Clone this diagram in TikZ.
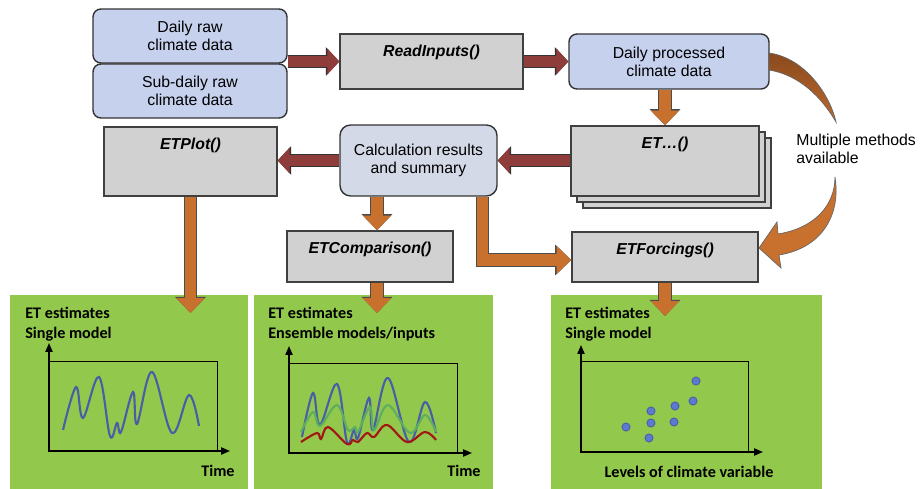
\documentclass[tikz,border=0pt]{standalone}
\usepackage{fontspec}
\setmainfont{Liberation Sans}
\newfontfamily\calibri{Carlito}
\usepackage{xcolor}
\definecolor{mblue}{HTML}{C6D1EE}
\definecolor{msum}{HTML}{D4D9E7}
\definecolor{mgrey}{HTML}{D1D1D1}
\definecolor{mgreen}{HTML}{92C84B}
\definecolor{mred}{HTML}{8F3D3B}
\definecolor{morange}{HTML}{C8702E}
\definecolor{mbrown}{HTML}{8A4A1E}
\definecolor{mline}{HTML}{4A5DA6}
\definecolor{mlgreen}{HTML}{5DAE62}
\definecolor{mdred}{HTML}{A31616}
\definecolor{mdot}{HTML}{5B7BD0}
\usetikzlibrary{arrows.meta,calc}

\tikzset{
  boxfont/.style={font=\fontsize{9}{10.3}\selectfont},
  databox/.style={draw=black!80, line width=0.8pt, fill=mblue, rounded corners=4.5pt,
    align=center, boxfont},
  fnshape/.style={draw=black!75, line width=0.8pt, fill=mgrey},
  fnbox/.style={fnshape, label={[fnlabel]north:#1}},
  fnlabel/.style={anchor=north, yshift=-3.2pt, boxfont, font=\fontsize{9}{10.3}\selectfont\bfseries\itshape},
  panel/.style={fill=mgreen, inner sep=0pt, minimum height=3.88cm, anchor=north west},
  paneltext/.style={anchor=north west, inner sep=0pt, align=left,
    font=\calibri\fontsize{9.2}{11.3}\selectfont\bfseries},
  axislabel/.style={anchor=base, inner sep=0pt, font=\calibri\fontsize{9.2}{11.3}\selectfont\bfseries},
  redarrow/.style={line width=6.2pt, draw=mred, line cap=butt,
    -{Triangle[length=6.8pt,width=14.4pt]},
    preaction={draw=black!80, line width=7.4pt, -{Triangle[length=7.6pt,width=15.8pt]}}},
  orangearrow/.style={line width=6.6pt, draw=morange, line cap=butt, line join=miter,
    -{Triangle[length=8.4pt,width=15.6pt]},
    preaction={draw=black!70, line width=7.6pt, line join=miter, -{Triangle[length=9.2pt,width=17pt]}}},
  axis/.style={line width=0.9pt, {Triangle[length=5pt,width=4pt]}-{Triangle[length=5pt,width=4pt]}},
  frame/.style={line width=0.5pt},
  curve/.style={line width=1.2pt, smooth, tension=0.6},
  dot/.style={fill=mdot, draw=mline, line width=0.5pt}
}

\begin{document}
\begin{tikzpicture}[x=0.02cm, y=-0.02cm]
  \useasboundingbox (0,0) rectangle (920,489);
  \fill[white] (0,0) rectangle (920,489);

  % result panels
  \node[panel, minimum width=4.76cm] (p1) at (10,295) {};
  \node[panel, minimum width=4.78cm] (p2) at (254,295) {};
  \node[panel, minimum width=5.42cm] (p3) at (551,295) {};

  % input data
  \node[databox, minimum width=3.88cm, minimum height=1.08cm] (rawd) at (190,36) {Daily raw\\climate data};
  \node[databox, minimum width=3.88cm, minimum height=1.08cm] (rawsd) at (190,91) {Sub-daily raw\\climate data};
  \node[fnbox={ReadInputs()}, minimum width=3.66cm, minimum height=1.1cm] (read) at (431.5,61.5) {};
  \node[databox, minimum width=4cm, minimum height=1.1cm] (proc) at (669,61.5) {Daily processed\\climate data};

  % ET methods (stacked)
  \node[fnshape, minimum width=3.76cm, minimum height=1.4cm] (et3) at (677,173) {};
  \node[fnshape, minimum width=3.76cm, minimum height=1.4cm] (et2) at (671,167) {};
  \node[fnbox={ET…()}, minimum width=3.76cm, minimum height=1.4cm] (et) at (665,161) {};

  \node[databox, fill=msum, rounded corners=6pt, minimum width=3.14cm, minimum height=1.42cm] (calc) at (418.5,160.5) {Calculation results\\and summary};
  \node[fnbox={ETPlot()}, minimum width=3.46cm, minimum height=1.38cm] (plot) at (190.5,161.5) {};
  \node[fnbox={ETComparison()}, minimum width=3.32cm, minimum height=1.02cm] (comp) at (370,256.5) {};
  \node[fnbox={ETForcings()}, minimum width=3.72cm, minimum height=1cm] (forc) at (665,257) {};

  % connectors
  \draw[redarrow] (read.west -| rawd.east) -- (read.west);
  \draw[redarrow] (read.east) -- (proc.west);
  \draw[orangearrow] (proc.south -| et.north) -- (et.north);
  \draw[redarrow] (et.west |- calc.east) -- (calc.east);
  \draw[redarrow] (calc.west) -- (calc.west -| plot.east);
  \draw[orangearrow] (plot.south) -- ($(plot.south |- p1.north)+(0,18)$);
  \coordinate (c1) at ($(comp.north)+(7,0)$);
  \draw[orangearrow] (c1 |- calc.south) -- (c1);
  \draw[orangearrow] (c1 |- comp.south) -- ($(c1 |- p2.north)+(0,18)$);
  \draw[orangearrow] ($(calc.south)+(64,0)$) |- ($(forc.west)+(0,3)$);
  \draw[orangearrow] (forc.south) -- ($(forc.south |- p3.north)+(0,21)$);

  % curved arrow round the methods
  \shade[top color=mbrown, bottom color=morange!80!mbrown, draw=black!60, line width=0.4pt]
    (769,53) .. controls (805,58) and (830,95) .. (836,122)
    .. controls (822,98) and (800,75) .. (769,70) -- cycle;
  \fill[morange, draw=black!60, line width=0.4pt]
    (835,177) .. controls (835,205) and (815,228) .. (778,234) -- (777,222) -- (759,248)
    -- (781,268) -- (779,255) .. controls (822,248) and (841,215) .. (835,177) -- cycle;
  \node[anchor=west, align=left, inner sep=0pt, boxfont] (multi) at (796,149) {Multiple methods\\available};

  % panel 1: single model time series
  \node[paneltext] (t1) at (25,307) {ET estimates\\Single model};
  \draw[frame] (49,361) rectangle (217,451);
  \draw[axis] (49,343) |- (230,451);
  \draw[mline, curve] plot coordinates {(63,430) (76,387) (83,418) (99,377) (110,436) (117,423)
    (121,432) (133,392) (137,424) (152,372) (172,433) (189,395) (199,426)};
  \node[axislabel] (x1) at (218,477) {Time};

  % panel 2: ensemble time series
  \node[paneltext] (t2) at (268,307) {ET estimates\\Ensemble models/inputs};
  \draw[frame] (289,363) rectangle (457,453);
  \draw[axis] (289,346) |- (472,453);
  \draw[mline, curve] plot coordinates {(302,437) (313,393) (320,425) (337,384) (347,442) (354,430)
    (358,438) (369,398) (373,430) (388,378) (409,442) (425,402) (436,433)};
  \draw[mlgreen, curve] plot coordinates {(301,432) (313,412) (320,426) (337,405) (348,430) (355,427)
    (358,432) (370,407) (374,430) (388,405) (410,433) (425,415) (436,432)};
  \draw[mdred, curve] plot coordinates {(301,442) (317,433) (321,439) (328,427) (347,444) (353,440)
    (358,442) (367,433) (374,437) (387,425) (407,442) (425,432) (436,440)};
  \node[axislabel] (x2) at (464,477) {Time};

  % panel 3: forcing scatter
  \node[paneltext] (t3) at (565,307) {ET estimates\\Single model};
  \draw[frame] (581,361) rectangle (748,452);
  \draw[axis] (581,345) |- (763,452);
  \foreach \x/\y in {696/381, 693/401, 675/406, 651/411, 651/423, 674/422, 626/427, 649/438}
    \draw[dot] (\x,\y) circle [radius=2.3pt];
  \node[axislabel] (x3) at (689,478) {Levels of climate variable};
\end{tikzpicture}
\end{document}
